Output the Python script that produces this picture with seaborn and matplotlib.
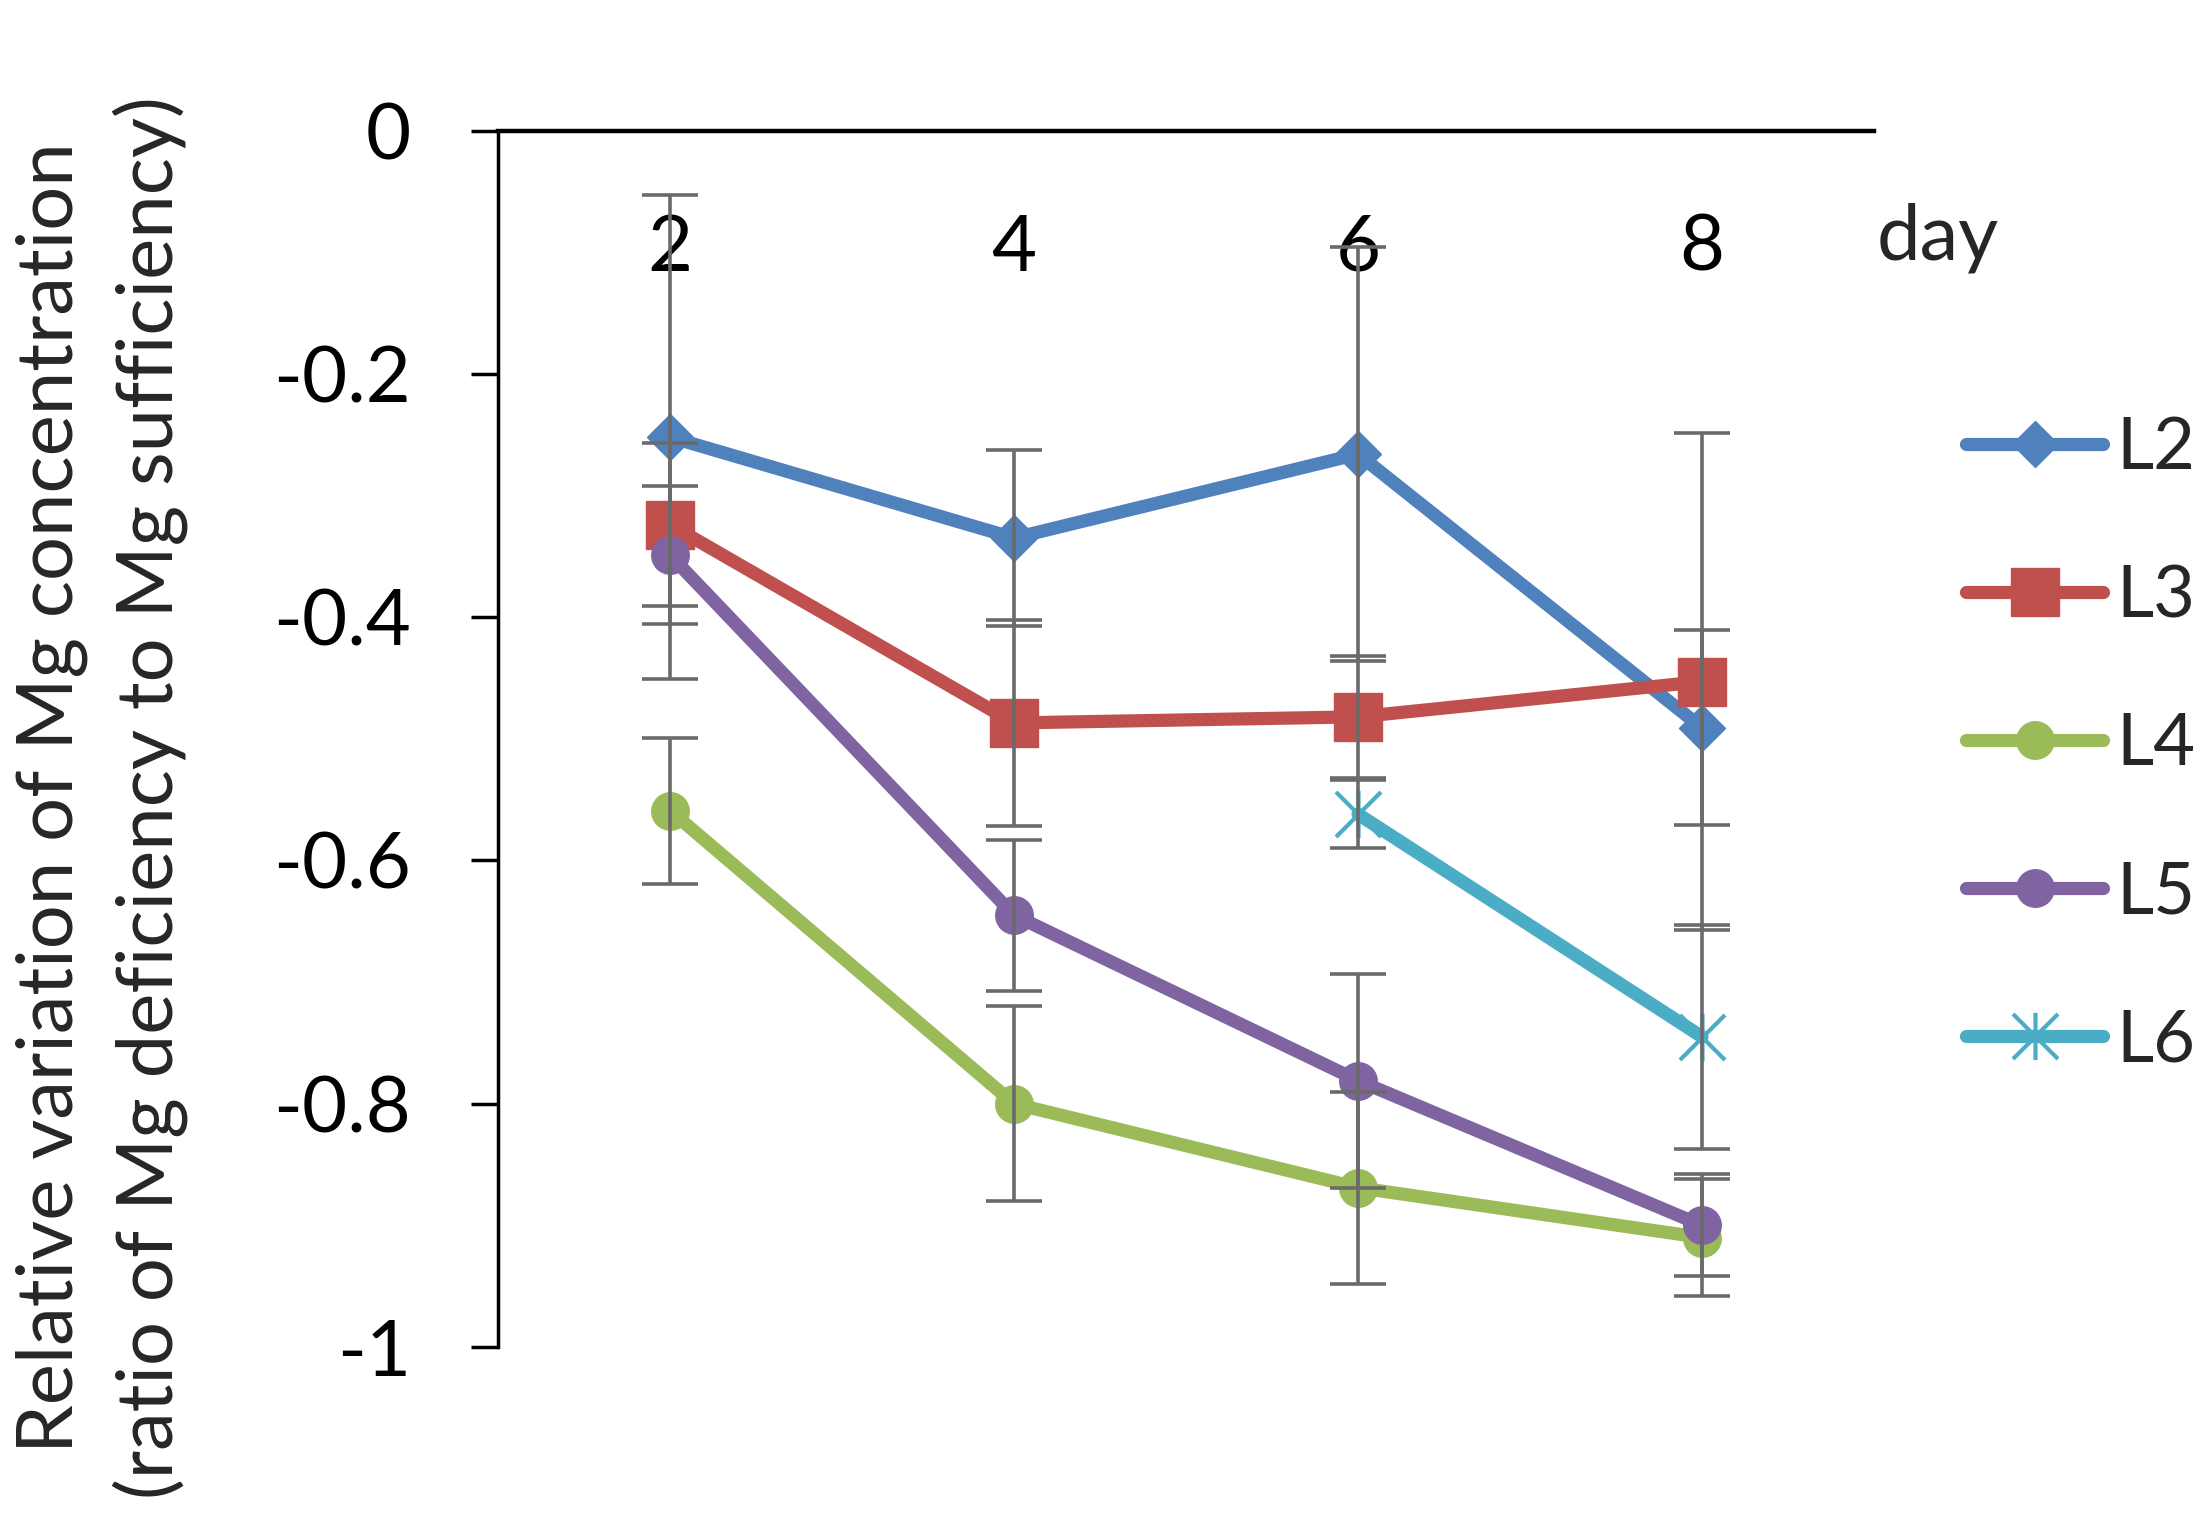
import numpy as np
import pandas as pd
import matplotlib
matplotlib.use("Agg")
import matplotlib.pyplot as plt
import seaborn as sns
from matplotlib.path import Path

# ---------------- data ----------------
days = ["2", "4", "6", "8"]
series_names = ["L2", "L3", "L4", "L5", "L6"]

l2_mean = [-0.252, -0.335, -0.266, -0.491]
l2_err = [0.199, 0.072, 0.170, 0.080]
l3_mean = [-0.324, -0.487, -0.482, -0.453]
l3_err = [0.067, 0.085, 0.050, 0.204]
l4_mean = [-0.559, -0.800, -0.869, -0.910]
l4_err = [0.060, 0.080, 0.079, 0.048]
l5_mean = [-0.349, -0.645, -0.781, -0.900]
l5_err = [0.057, 0.062, 0.088, 0.042]
l6_mean = [np.nan, np.nan, -0.562, -0.745]
l6_err = [np.nan, np.nan, 0.028, 0.092]

ytick_values = [0, -0.2, -0.4, -0.6, -0.8, -1]
ytick_labels = ["0", "-0.2", "-0.4", "-0.6", "-0.8", "-1"]

means = [l2_mean, l3_mean, l4_mean, l5_mean, l6_mean]
errs = [l2_err, l3_err, l4_err, l5_err, l6_err]

rows = []
for name, m, e in zip(series_names, means, errs):
    for d, v, ee in zip(days, m, e):
        rows.append({"series": name, "day": d, "value": v, "err": ee})
df = pd.DataFrame(rows).dropna()
df["pos"] = pd.Categorical(df["day"], categories=days).codes

# ---------------- style ----------------
sns.set_theme(style="white")
plt.rcParams["font.family"] = ["Lato", "DejaVu Sans"]

colors = {"L2": "#4F81BD", "L3": "#C0504D", "L4": "#9BBB59",
          "L5": "#8064A2", "L6": "#4BACC6"}
star = Path([(-1, -1), (1, 1), (-1, 1), (1, -1), (0, -1.05), (0, 1.05)],
            [Path.MOVETO, Path.LINETO, Path.MOVETO, Path.LINETO,
             Path.MOVETO, Path.LINETO])
marker_styles = {
    "L2": dict(marker="D", markersize=23, markeredgewidth=1),
    "L3": dict(marker="s", markersize=34, markeredgewidth=1),
    "L4": dict(marker="o", markersize=27, markeredgewidth=1),
    "L5": dict(marker="o", markersize=27, markeredgewidth=1),
    "L6": dict(marker=star, markersize=34, markeredgewidth=3,
               markerfacecolor="none"),
}

fig = plt.figure(figsize=(22.01, 15.13), dpi=100)
ax = fig.add_axes([498 / 2201, 1 - 1347 / 1513, (1874 - 498) / 2201, (1347 - 130.5) / 1513])

for name in series_names:
    sub = df[df["series"] == name]
    sns.lineplot(data=sub, x="pos", y="value", ax=ax, color=colors[name],
                 linewidth=9.5, label=name, errorbar=None, sort=False,
                 markeredgecolor=colors[name], solid_capstyle="round",
                 solid_joinstyle="round", zorder=3, **marker_styles[name])

for name in series_names:
    sub = df[df["series"] == name]
    ax.errorbar(sub["pos"], sub["value"], yerr=sub["err"], fmt="none",
                ecolor="#6a6a6a", elinewidth=2.6, capsize=20, capthick=2.6,
                zorder=5)

ax.set_xlim(-0.5, 3.5)
ax.set_ylim(-1, 0)
ax.set_xticks(range(len(days)))
ax.set_xticklabels(days)
ax.set_yticks(ytick_values)
ax.set_yticklabels(ytick_labels)

for s in ["top", "right"]:
    ax.spines[s].set_visible(False)
ax.spines["bottom"].set_position(("data", 0))
ax.spines["bottom"].set_linewidth(3.2)
ax.spines["bottom"].set_color("black")
ax.spines["left"].set_linewidth(2.5)
ax.spines["left"].set_color("black")

ax.tick_params(axis="x", length=0, pad=60, labelsize=56, colors="black")
ax.tick_params(axis="y", length=19.4, width=2.5, pad=43, labelsize=56,
               colors="black", direction="out", left=True)

ax.set_xlabel("day", fontsize=56, ha="left", va="baseline")
ax.xaxis.set_label_coords(1.002, 0.8936)
ax.set_ylabel("Relative variation of Mg concentration\n(ratio of Mg deficiency to Mg sufficiency)",
              fontsize=56, ha="center", va="center", linespacing=1.4)
ax.yaxis.set_label_coords(-0.288, 0.452)

handles, labels = ax.get_legend_handles_labels()
ax.legend(handles, labels, loc="upper left", bbox_to_anchor=(1966 / 2201, 0.725),
          bbox_transform=fig.transFigure, frameon=False, fontsize=52,
          handlelength=1.9, handletextpad=0.18, labelspacing=1.15,
          borderpad=0, borderaxespad=0)

fig.savefig("out.png", dpi=100, facecolor="white")
